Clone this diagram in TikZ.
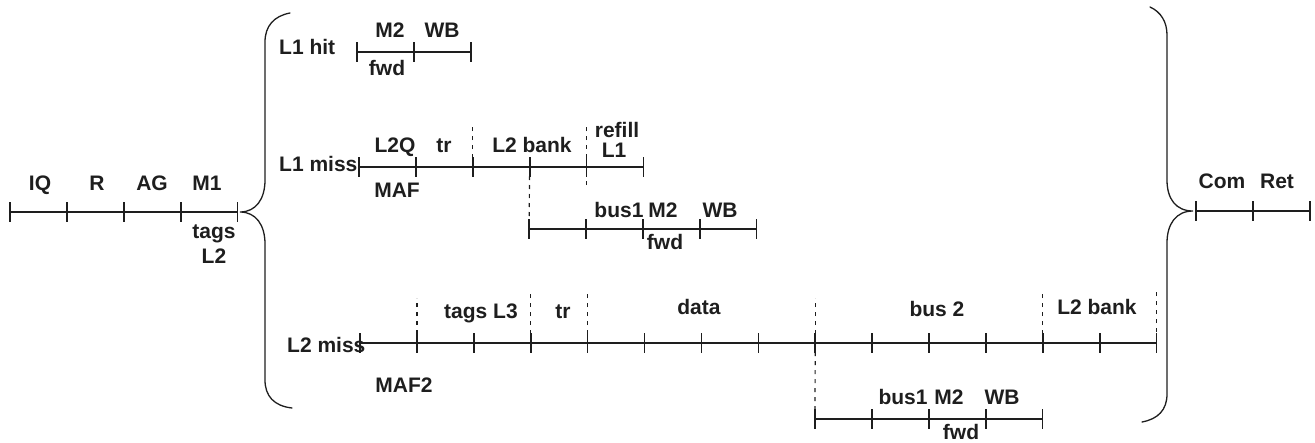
\documentclass[tikz,border=0pt]{standalone}
\usepackage{fontspec}
\setmainfont{Liberation Sans}
\definecolor{ink}{HTML}{1E1E1E}
% one pipeline stage row: name, start x, y, number of stages
\def\seg{56.9}
\newcommand\stageline[4]{%
  \foreach \k in {0,...,#4}{\coordinate (#1-\k) at ({#2+\k*\seg},#3);}
  \draw[timeline] (#1-0) -- (#1-#4);
  \foreach \k in {0,...,#4}{\draw[tickmark] ([yshift=10pt]#1-\k) -- ([yshift=-10pt]#1-\k);}
}
\begin{document}
\begin{tikzpicture}[x=1pt,y=-1pt,
  lbl/.style={inner sep=0pt, anchor=base, text=ink,
              font=\fontsize{21}{25}\selectfont\bfseries},
  rowname/.style={lbl, anchor=base west},
  timeline/.style={draw=ink, line width=1.2pt},
  tickmark/.style={draw=ink, line width=1.6pt},
  boundary/.style={draw=ink, line width=1.2pt, dash pattern=on 4pt off 5pt},
  bracket/.style={draw=ink, line width=1.3pt, line cap=round}]
\useasboundingbox (0,0) rectangle (1315,442);

% front end of the pipeline
\stageline{pipe}{10}{212}{4}
\node[lbl] (tIQ) at (40,190) {IQ};
\node[lbl] (tR)  at (97,190) {R};
\node[lbl] (tAG) at (152,190) {AG};
\node[lbl] (tM1) at (207,190) {M1};
\node[lbl] (tTags) at (214,238) {tags};
\node[lbl] (tLtwo) at (214,263) {L2};

% opening brace
\draw[bracket] (290,13) .. controls (274,16) and (265,26) .. (265,42)
  -- (265,180) .. controls (265,199) and (256,212) .. (240,212)
  .. controls (256,212) and (265,225) .. (265,244)
  -- (265,380) .. controls (265,396) and (274,406) .. (292,408);

% L1 hit
\stageline{hit}{357}{52}{2}
\node[rowname] (hitName) at (279,54) {L1 hit};
\node[lbl] (hitM2) at (390,37) {M2};
\node[lbl] (hitWB) at (442,37) {WB};
\node[lbl] (hitFwd) at (387,75) {fwd};

% L1 miss
\stageline{miss}{359}{167}{5}
\node[rowname] (missName) at (279,171) {L1 miss};
\node[lbl] (missQ) at (395,152) {L2Q};
\node[lbl] (missTr) at (444,152) {tr};
\node[lbl] (missBank) at (532,152) {L2 bank};
\node[lbl] (missRefill) at (617,137) {refill};
\node[lbl] (missLone) at (614,157) {L1};
\node[lbl] (missMaf) at (397,197) {MAF};
\draw[boundary] (miss-2) -- ++(0,-44);
\draw[boundary] ([yshift=-18pt]miss-4) -- ++(0,-62);

% L1 miss: data returned to the core
\stageline{fillA}{529}{229}{4}
\draw[boundary] (miss-3) -- (fillA-0);
\node[lbl] (fillAbus) at (619,217) {bus1};
\node[lbl] (fillAM2) at (663,217) {M2};
\node[lbl] (fillAWB) at (720,217) {WB};
\node[lbl] (fillAFwd) at (665,249) {fwd};

% L2 miss
\stageline{far}{360}{343}{14}
\node[rowname] (farName) at (287,352) {L2 miss};
\node[lbl] (farMaf) at (404,392) {MAF2};
\node[lbl] (farTags) at (481,318) {tags L3};
\node[lbl] (farTr) at (563,318) {tr};
\node[lbl] (farData) at (699,314) {data};
\node[lbl] (farBus) at (937,316) {bus 2};
\node[lbl] (farBank) at (1097,314) {L2 bank};
\draw[boundary] (far-1) -- ++(0,-45);
\draw[boundary] (far-3) -- ++(0,-50);
\draw[boundary] (far-4) -- ++(0,-50);
\draw[boundary] (far-8) -- ++(0,-45);
\draw[boundary] ([yshift=-9pt]far-12) -- ++(0,-62);
\draw[boundary] ([yshift=-7pt]far-14) -- ++(0,-58);

% L2 miss: data returned to the core
\stageline{fillB}{815}{419}{4}
\draw[boundary] (far-8) -- (fillB-0);
\node[lbl] (fillBbus) at (903,404) {bus1};
\node[lbl] (fillBM2) at (949,404) {M2};
\node[lbl] (fillBWB) at (1002,404) {WB};
\node[lbl] (fillBFwd) at (961,439) {fwd};

% closing brace
\draw[bracket] (1150,7) .. controls (1161,12) and (1167,22) .. (1167,35)
  -- (1167,180) .. controls (1167,199) and (1176,211) .. (1193,211)
  .. controls (1176,211) and (1167,224) .. (1167,243)
  -- (1167,394) .. controls (1167,410) and (1158,419) .. (1142,422);

% commit and retire
\stageline{tail}{1196}{211}{2}
\node[lbl] (tCom) at (1222,188) {Com};
\node[lbl] (tRet) at (1277,188) {Ret};
\end{tikzpicture}
\end{document}
